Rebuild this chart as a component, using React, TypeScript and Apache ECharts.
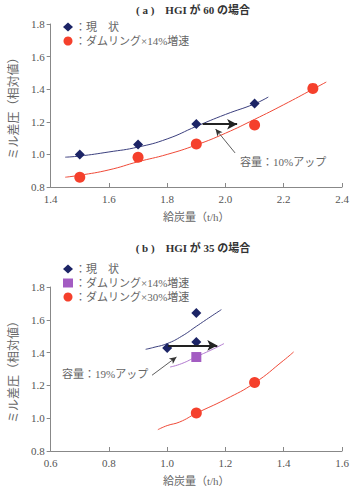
import React, { useEffect, useRef } from "react";
import * as echarts from "echarts";

// ---- (a) HGI 60 ----
const aCurrentPts: [number, number][] = [
  [1.5, 1.0], [1.7, 1.06], [1.9, 1.186], [2.1, 1.313],
];
const aDam14Pts: [number, number][] = [
  [1.5, 0.86], [1.7, 0.982], [1.9, 1.064], [2.1, 1.18], [2.3, 1.405],
];
const aCurrentCurve: [number, number][] = [
  [1.45, 0.983], [1.5, 0.99], [1.6, 1.015], [1.7, 1.045], [1.8, 1.095],
  [1.9, 1.172], [2.0, 1.245], [2.1, 1.31], [2.147, 1.352],
];
const aDam14Curve: [number, number][] = [
  [1.45, 0.86], [1.5, 0.872], [1.6, 0.905], [1.7, 0.955], [1.8, 1.0],
  [1.9, 1.058], [2.0, 1.13], [2.1, 1.215], [2.2, 1.305], [2.3, 1.4], [2.346, 1.444],
];
const aShift: [number, number][] = [[1.922, 1.185], [2.04, 1.185]];
const aPointer: [number, number][] = [[2.033, 1.009], [1.966, 1.156]];

// ---- (b) HGI 35 ----
const bCurrentPts: [number, number][] = [[1.0, 1.428], [1.1, 1.641], [1.1, 1.465]];
const bDam14Pts: [number, number][] = [[1.1, 1.373]];
const bDam30Pts: [number, number][] = [[1.1, 1.032], [1.3, 1.217]];
const bCurrentCurve: [number, number][] = [
  [0.926, 1.42], [0.95, 1.43], [1.0, 1.455], [1.05, 1.5], [1.1, 1.56],
  [1.15, 1.62], [1.186, 1.662],
];
const bDam14Curve: [number, number][] = [
  [1.01, 1.312], [1.05, 1.333], [1.1, 1.375], [1.15, 1.415], [1.195, 1.455],
];
const bDam30Curve: [number, number][] = [
  [0.968, 0.93], [1.0, 0.955], [1.043, 0.977], [1.1, 1.03], [1.2, 1.115],
  [1.3, 1.215], [1.4, 1.353], [1.434, 1.404],
];
const bShift: [number, number][] = [[1.003, 1.444], [1.172, 1.444]];
const bPointer: [number, number][] = [[0.948, 1.262], [1.032, 1.373]];

const titleA = "( a )　HGI が 60 の場合";
const titleB = "( b )　HGI が 35 の場合";
const noteA = "容量：10%アップ";
const noteB = "容量：19%アップ";
const xName = "給炭量（t/h）";
const yName = "ミル差圧（相対値）";

const FONT = "'Liberation Serif', 'Noto Sans CJK JP', serif";
const TEXT = "#555";
const LIGHT = "#666";
const NAVY = "#1c2466";
const NAVY_LINE = "#3b3f7e";
const RED = "#f5402c";
const RED_LINE = "#f04a38";
const PURPLE = "#a35cc2";
const PURPLE_LINE = "#b27ad0";

function xAxisCfg(gridIndex: number, min: number, max: number) {
  return {
    type: "value",
    gridIndex,
    min,
    max,
    interval: 0.2,
    name: xName,
    nameLocation: "middle",
    nameGap: 24,
    nameTextStyle: { color: LIGHT, fontFamily: FONT, fontSize: 11 },
    axisLine: { lineStyle: { color: "#888", width: 1 } },
    axisTick: { inside: true, length: 4, lineStyle: { color: "#888" } },
    axisLabel: {
      color: TEXT,
      fontFamily: FONT,
      fontSize: 11,
      margin: 6,
      formatter: (v: number) => v.toFixed(1),
    },
    splitLine: { show: false },
  };
}

function yAxisCfg(gridIndex: number) {
  return {
    type: "value",
    gridIndex,
    min: 0.8,
    max: 1.8,
    interval: 0.2,
    name: yName,
    nameLocation: "middle",
    nameGap: 29,
    nameRotate: 90,
    nameTextStyle: { color: LIGHT, fontFamily: FONT, fontSize: 12 },
    axisLine: { show: true, lineStyle: { color: "#888", width: 1 } },
    axisTick: { show: true, length: 4, lineStyle: { color: "#888" } },
    axisLabel: {
      color: TEXT,
      fontFamily: FONT,
      fontSize: 11,
      margin: 6,
      formatter: (v: number) => v.toFixed(1),
    },
    splitLine: { show: false },
  };
}

function curve(name: string, idx: number, data: [number, number][], color: string) {
  return {
    name,
    type: "line",
    xAxisIndex: idx,
    yAxisIndex: idx,
    data,
    smooth: true,
    showSymbol: false,
    symbol: "none",
    lineStyle: { color, width: 1 },
    z: 2,
  };
}

function marks(
  name: string,
  idx: number,
  data: [number, number][],
  color: string,
  symbol: string,
  size: number
) {
  return {
    name,
    type: "scatter",
    xAxisIndex: idx,
    yAxisIndex: idx,
    data,
    symbol,
    symbolSize: size,
    itemStyle: { color, opacity: 1 },
    z: 4,
  };
}

function arrows(idx: number, shift: [number, number][], pointer: [number, number][]) {
  return {
    type: "line",
    xAxisIndex: idx,
    yAxisIndex: idx,
    data: [],
    silent: true,
    markLine: {
      silent: true,
      animation: false,
      label: { show: false },
      data: [
        [
          { coord: shift[0], symbol: "none", lineStyle: { color: "#222", width: 2.2, type: "solid" } },
          { coord: shift[1], symbol: "arrow", symbolSize: [8, 10] },
        ],
        [
          { coord: pointer[0], symbol: "none", lineStyle: { color: "#333", width: 0.8, type: "solid" } },
          { coord: pointer[1], symbol: "arrow", symbolSize: [5, 7] },
        ],
      ],
    },
    z: 5,
  };
}

function legendCfg(top: number, names: string[]) {
  return {
    orient: "vertical",
    left: 58,
    top,
    itemWidth: 10,
    itemHeight: 9,
    itemGap: 2,
    selectedMode: false,
    data: names,
    formatter: (n: string) => "：" + n.slice(2),
    textStyle: {
      color: LIGHT,
      fontFamily: FONT,
      fontSize: 11,
      lineHeight: 12,
      padding: [0, 0, 0, -3],
    },
  };
}

export default function App() {
  const ref = useRef<HTMLDivElement>(null);

  useEffect(() => {
    if (!ref.current) return;
    const chart = echarts.init(ref.current, undefined, { renderer: "svg" });
    chart.setOption({
      animation: false,
      backgroundColor: "#fff",
      grid: [
        { left: 45, top: 24, width: 297, height: 163 },
        { left: 45, top: 287, width: 297, height: 164 },
      ],
      xAxis: [xAxisCfg(0, 1.4, 2.4), xAxisCfg(1, 0.6, 1.6)],
      yAxis: [yAxisCfg(0), yAxisCfg(1)],
      legend: [
        legendCfg(16, ["a:現　状", "a:ダムリング×14%増速"]),
        legendCfg(258, ["b:現　状", "b:ダムリング×14%増速", "b:ダムリング×30%増速"]),
      ],
      graphic: [
        {
          type: "text",
          x: 193,
          y: 10,
          style: {
            text: titleA,
            fill: "#333",
            font: `bold 11px ${FONT}`,
            textAlign: "center",
            textVerticalAlign: "middle",
          },
        },
        {
          type: "text",
          x: 193,
          y: 248,
          style: {
            text: titleB,
            fill: "#333",
            font: `bold 11px ${FONT}`,
            textAlign: "center",
            textVerticalAlign: "middle",
          },
        },
        {
          type: "text",
          x: 240,
          y: 162,
          style: { text: noteA, fill: LIGHT, font: `11px ${FONT}`, textVerticalAlign: "middle" },
        },
        {
          type: "text",
          x: 62,
          y: 374,
          style: { text: noteB, fill: LIGHT, font: `11px ${FONT}`, textVerticalAlign: "middle" },
        },
      ],
      series: [
        curve("a:cur-fit", 0, aCurrentCurve, NAVY_LINE),
        curve("a:dam14-fit", 0, aDam14Curve, RED_LINE),
        marks("a:現　状", 0, aCurrentPts, NAVY, "diamond", 10),
        marks("a:ダムリング×14%増速", 0, aDam14Pts, RED, "circle", 11),
        arrows(0, aShift, aPointer),

        curve("b:cur-fit", 1, bCurrentCurve, NAVY_LINE),
        curve("b:dam14-fit", 1, bDam14Curve, PURPLE_LINE),
        curve("b:dam30-fit", 1, bDam30Curve, RED_LINE),
        marks("b:現　状", 1, bCurrentPts, NAVY, "diamond", 10),
        marks("b:ダムリング×14%増速", 1, bDam14Pts, PURPLE, "rect", 10),
        marks("b:ダムリング×30%増速", 1, bDam30Pts, RED, "circle", 11),
        arrows(1, bShift, bPointer),
      ],
    });
    return () => chart.dispose();
  }, []);

  return (
    <div
      ref={ref}
      style={{ position: "fixed", left: 0, top: 0, width: 352, height: 489, background: "#fff" }}
    />
  );
}
